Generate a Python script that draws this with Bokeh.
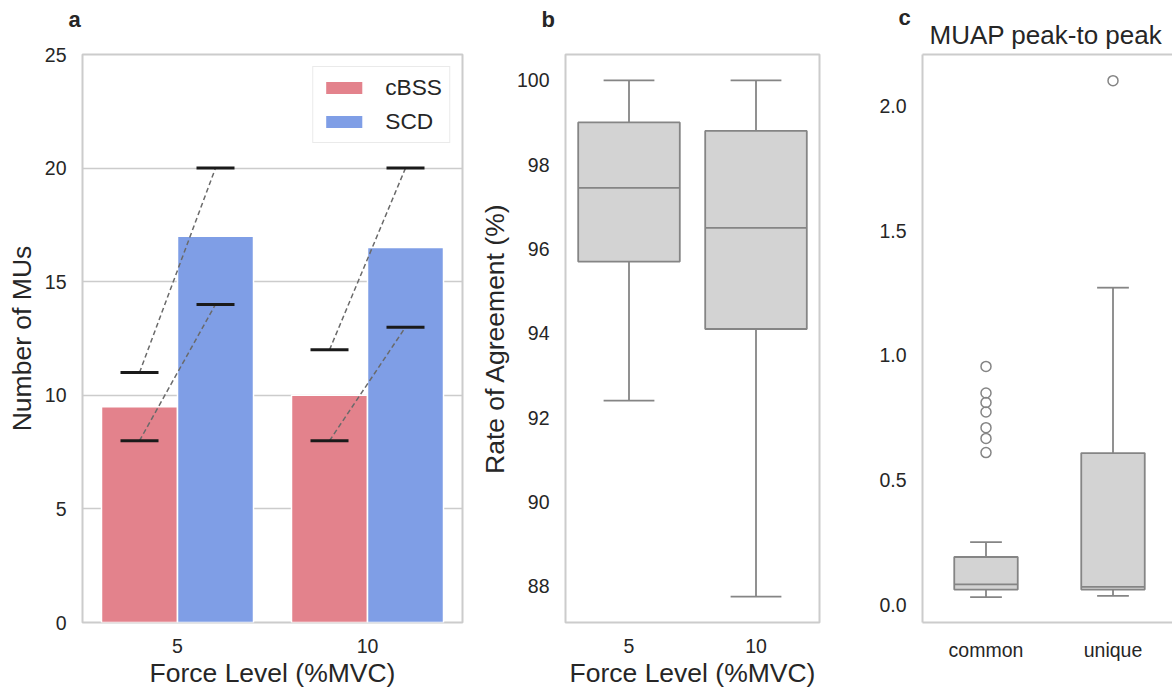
from bokeh.plotting import figure
from bokeh.layouts import row
from bokeh.models import (ColumnDataSource, FactorRange, Range1d, FixedTicker,
                          NumeralTickFormatter, LinearAxis, Title)
from bokeh.transform import dodge
from bokeh.embed import file_html
from bokeh.resources import INLINE

FONT = "Liberation Sans"
TXT = "#262626"
SPINE = "#cccccc"
BOXLINE = "#858585"
BOXFILL = "#d3d3d3"
CBSS_COLOR = "#e3828c"
SCD_COLOR = "#7f9ee6"

# ---------------- data: panel a ----------------
force_levels = ["5", "10"]
cbss_mean = [9.5, 10.0]
scd_mean = [17.0, 16.5]
subj1_cbss = [11, 12]
subj1_scd = [20, 20]
subj2_cbss = [8, 8]
subj2_scd = [14, 13]
a_yticks = [0, 5, 10, 15, 20, 25]

# ---------------- data: panel b ----------------
b_q1 = [95.7, 94.1]
b_med = [97.45, 96.5]
b_q3 = [99.0, 98.8]
b_lo = [92.4, 87.75]
b_hi = [100.0, 100.0]
b_yticks = [88, 90, 92, 94, 96, 98, 100]

# ---------------- data: panel c ----------------
c_groups = ["common", "unique"]
c_q1 = [0.060, 0.060]
c_med = [0.081, 0.071]
c_q3 = [0.191, 0.608]
c_lo = [0.030, 0.035]
c_hi = [0.251, 1.272]
common_outliers = [0.610, 0.667, 0.710, 0.773, 0.811, 0.849, 0.956]
unique_outliers = [2.103]
c_yticks = [0.0, 0.5, 1.0, 1.5, 2.0]

H = 690
TOP = 54
BOTTOM = 68


def style_axes(p, ylabel=None, ystand=5, xlabel=None):
    for ax in list(p.xaxis) + list(p.yaxis):
        ax.major_tick_line_color = None
        ax.minor_tick_line_color = None
        ax.major_tick_out = 0
        ax.major_tick_in = 0
        ax.major_label_text_font = FONT
        ax.major_label_text_font_size = "19.5px"
        ax.major_label_text_color = TXT
        ax.axis_label_text_font = FONT
        ax.axis_label_text_font_size = "26.5px"
        ax.axis_label_text_font_style = "normal"
        ax.axis_label_text_color = TXT
    p.yaxis.major_label_standoff = 16
    p.xaxis.major_label_standoff = 16
    if ylabel:
        p.yaxis.axis_label = ylabel
        p.yaxis.axis_label_standoff = ystand
    if xlabel:
        p.xaxis.axis_label = xlabel
        p.xaxis.axis_label_standoff = 2
    p.xgrid.grid_line_color = None
    p.ygrid.grid_line_color = None


def letter(t, offset, standoff):
    return Title(text=t, align="left", offset=offset, standoff=standoff,
                 text_font=FONT, text_font_size="22px", text_font_style="bold",
                 text_color=TXT)


def spacer(standoff):
    return Title(text=" ", standoff=standoff, text_font_size="1px")


# ================= panel a =================
pa = figure(width=475, height=H, x_range=FactorRange(factors=force_levels),
            y_range=Range1d(0, 25), output_backend="svg", toolbar_location=None,
            min_border_left=82, min_border_right=13, min_border_top=TOP,
            min_border_bottom=BOTTOM, title=None)
style_axes(pa, "Number of MUs", 5, "Force Level (%MVC)")
pa.outline_line_color = SPINE
pa.outline_line_width = 2
pa.xaxis.axis_line_color = None
pa.yaxis.axis_line_color = None
pa.yaxis.ticker = FixedTicker(ticks=a_yticks)
pa.ygrid.ticker = FixedTicker(ticks=a_yticks)
pa.ygrid.grid_line_color = SPINE
pa.ygrid.grid_line_width = 1.5
pa.add_layout(spacer(20), "above")
pa.add_layout(letter("a", -14, 0), "above")

src_a = ColumnDataSource(dict(force=force_levels, cbss=cbss_mean, scd=scd_mean))
pa.vbar(x=dodge("force", -0.2, range=pa.x_range), top="cbss", width=0.4, source=src_a,
        fill_color=CBSS_COLOR, line_color="white", line_width=1.5, legend_label="cBSS")
pa.vbar(x=dodge("force", 0.2, range=pa.x_range), top="scd", width=0.4, source=src_a,
        fill_color=SCD_COLOR, line_color="white", line_width=1.5, legend_label="SCD")

src_s = ColumnDataSource(dict(force=force_levels * 2,
                              cbss=subj1_cbss + subj2_cbss,
                              scd=subj1_scd + subj2_scd))
pa.segment(x0=dodge("force", -0.2, range=pa.x_range), y0="cbss",
           x1=dodge("force", 0.2, range=pa.x_range), y1="scd", source=src_s,
           line_color="#6a6a6a", line_width=1.5, line_dash="5 3")
pa.scatter(x=dodge("force", -0.2, range=pa.x_range), y="cbss", source=src_s,
           marker="dash", size=38, line_color="#1a1a1a", line_width=3)
pa.scatter(x=dodge("force", 0.2, range=pa.x_range), y="scd", source=src_s,
           marker="dash", size=38, line_color="#1a1a1a", line_width=3)

lg = pa.legend[0]
lg.location = "top_right"
lg.margin = 12
lg.padding = 7
lg.spacing = 7
lg.glyph_width = 47
lg.glyph_height = 17
lg.label_standoff = 18
lg.label_text_font = FONT
lg.label_text_font_size = "22.7px"
lg.label_text_color = TXT
lg.border_line_color = "#d6d6d6"
lg.border_line_width = 1.5
lg.background_fill_alpha = 0.85

# ================= panel b =================
pb = figure(width=395, height=H, x_range=FactorRange(factors=force_levels),
            y_range=Range1d(87.1375, 100.6125), output_backend="svg",
            toolbar_location=None, min_border_left=90, min_border_right=51,
            min_border_top=TOP, min_border_bottom=BOTTOM, title=None)
style_axes(pb, "Rate of Agreement (%)", 4, "Force Level (%MVC)")
pb.outline_line_color = SPINE
pb.outline_line_width = 2
pb.xaxis.axis_line_color = None
pb.yaxis.axis_line_color = None
pb.yaxis.ticker = FixedTicker(ticks=b_yticks)
pb.add_layout(spacer(20), "above")
pb.add_layout(letter("b", -24, 0), "above")

src_b = ColumnDataSource(dict(force=force_levels, q1=b_q1, med=b_med, q3=b_q3,
                              lo=b_lo, hi=b_hi))
bl = dict(line_color=BOXLINE, line_width=1.8)
pb.segment(x0="force", y0="q3", x1="force", y1="hi", source=src_b, **bl)
pb.segment(x0="force", y0="q1", x1="force", y1="lo", source=src_b, **bl)
pb.vbar(x="force", width=0.8, bottom="q1", top="q3", source=src_b,
        fill_color=BOXFILL, **bl)
pb.segment(x0=dodge("force", -0.4, range=pb.x_range), y0="med",
           x1=dodge("force", 0.4, range=pb.x_range), y1="med", source=src_b, **bl)
for col in ("hi", "lo"):
    pb.segment(x0=dodge("force", -0.2, range=pb.x_range), y0=col,
               x1=dodge("force", 0.2, range=pb.x_range), y1=col, source=src_b, **bl)

# ================= panel c =================
c_pos = list(range(len(c_groups)))
pc = figure(width=302, height=H, x_range=Range1d(-0.5, -0.5 + 250 / 127),
            y_range=Range1d(-0.072, 2.208), output_backend="svg",
            toolbar_location=None, min_border_left=52, min_border_right=0,
            min_border_top=TOP, min_border_bottom=BOTTOM, title=None)
style_axes(pc)
pc.outline_line_color = None
pc.xaxis.axis_line_color = SPINE
pc.xaxis.axis_line_width = 2
pc.yaxis.axis_line_color = SPINE
pc.yaxis.axis_line_width = 2
pc.yaxis.ticker = FixedTicker(ticks=c_yticks)
pc.yaxis.formatter = NumeralTickFormatter(format="0.0")
pc.xaxis.ticker = FixedTicker(ticks=c_pos)
pc.xaxis.major_label_overrides = {i: g for i, g in zip(c_pos, c_groups)}

top_ax = LinearAxis(ticker=FixedTicker(ticks=[]), axis_line_color=SPINE,
                    axis_line_width=2, major_tick_line_color=None,
                    minor_tick_line_color=None, major_tick_out=0, major_tick_in=0,
                    major_label_standoff=0, major_label_text_font_size="0px")
pc.add_layout(top_ax, "above")
pc.add_layout(Title(text="MUAP peak-to peak", align="left", offset=7,
                    text_font=FONT, text_font_size="26px", text_font_style="normal",
                    text_color=TXT, standoff=10), "above")
pc.add_layout(letter("c", -24, -34), "above")

src_c = ColumnDataSource(dict(pos=c_pos, q1=c_q1, med=c_med, q3=c_q3, lo=c_lo, hi=c_hi))
pc.segment(x0="pos", y0="q3", x1="pos", y1="hi", source=src_c, **bl)
pc.segment(x0="pos", y0="q1", x1="pos", y1="lo", source=src_c, **bl)
pc.vbar(x="pos", width=0.5, bottom="q1", top="q3", source=src_c, fill_color=BOXFILL, **bl)
pc.segment(x0=dodge("pos", -0.25), y0="med", x1=dodge("pos", 0.25), y1="med",
           source=src_c, **bl)
for col in ("hi", "lo"):
    pc.segment(x0=dodge("pos", -0.125), y0=col, x1=dodge("pos", 0.125), y1=col,
               source=src_c, **bl)

src_o = ColumnDataSource(dict(
    x=[c_pos[0]] * len(common_outliers) + [c_pos[1]] * len(unique_outliers),
    y=common_outliers + unique_outliers))
pc.scatter(x="x", y="y", source=src_o, marker="circle", size=10, fill_color=None,
           line_color=BOXLINE, line_width=1.5)

layout = row(pa, pb, pc)
open("out.html", "w").write(file_html(layout, INLINE, "chart"))
